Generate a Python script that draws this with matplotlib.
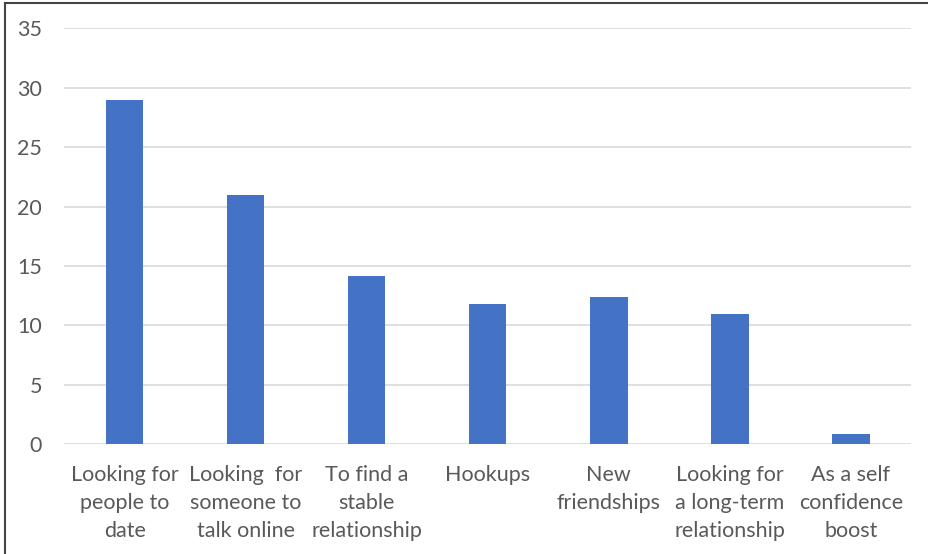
import numpy as np
import matplotlib.pyplot as plt

# 数据
categories = ["Looking for\npeople to\ndate",
              "Looking  for\nsomeone to\ntalk online",
              "To find a\nstable\nrelationship",
              "Hookups",
              "New\nfriendships",
              "Looking for\na long-term\nrelationship",
              "As a self\nconfidence\nboost"]
values = [29, 21, 14.2, 11.8, 12.4, 11.0, 0.9]
y_ticks = [0, 5, 10, 15, 20, 25, 30, 35]

plt.rcParams['font.family'] = ['Lato', 'DejaVu Sans']

fig = plt.figure(figsize=(9.29, 5.54), dpi=100)
ax = fig.add_axes([0.069, 0.198, 0.912, 0.751])

x = np.arange(len(categories))
ax.bar(x, values, width=0.31, color='#4472C4', zorder=3)

ax.set_xlim(-0.5, len(categories) - 0.5)
ax.set_ylim(0, 35)
ax.set_yticks(y_ticks)
ax.set_xticks(x)
ax.set_xticklabels(categories, linespacing=1.5)
ax.tick_params(axis='both', length=0, colors='#595959', labelsize=15.5)
ax.tick_params(axis='x', pad=15)
ax.tick_params(axis='y', pad=16)
ax.yaxis.grid(True, color='#d9d9d9', linewidth=1.2, zorder=0)
for s in ax.spines.values():
    s.set_visible(False)

# 外框（上边和左边）
fig.add_artist(plt.Line2D([0.0055, 0.0055], [0, 0.995], color='#444444', lw=1.5))
fig.add_artist(plt.Line2D([0.0055, 1], [0.995, 0.995], color='#444444', lw=1.5))

fig.savefig('out.png', dpi=100)
